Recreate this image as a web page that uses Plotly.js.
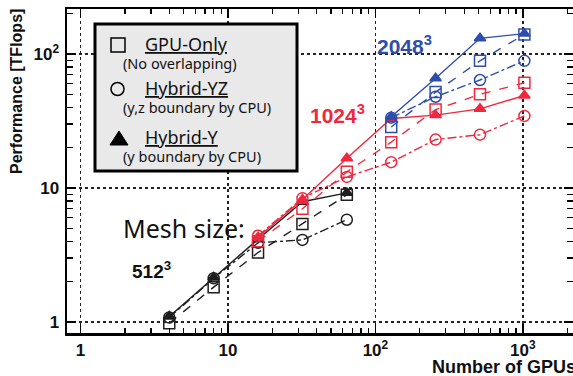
<!DOCTYPE html>
<html>
<head>
<meta charset="utf-8">
<script src="https://cdn.plot.ly/plotly-3.0.1.min.js"></script>
<style>html,body{margin:0;padding:0;background:#fff;}#chart{width:573px;height:376px;}</style>
</head>
<body>
<div id="chart"></div>
<script>
// ---- data ----
const xs512 = [4, 8, 16, 32, 64];
const gpu512 = [0.98, 1.82, 3.3, 5.4, 8.9];
const yz512 = [1.08, 2.12, 3.9, 4.1, 5.8];
const hy512 = [1.1, 2.15, 4.15, 7.9, 9.2];

const xs1024 = [16, 32, 64, 128, 256, 512, 1024];
const gpu1024 = [4.0, 7.0, 13.2, 22, 38.5, 50, 61];
const yz1024 = [4.4, 8.4, 12.1, 15.6, 23, 25, 34.5];
const hy1024 = [4.3, 8.2, 16.7, 33, 35, 39, 49];

const xs2048 = [128, 256, 512, 1024];
const gpu2048 = [28.5, 52, 89, 140];
const yz2048 = [33.5, 48, 64, 89];
const hy2048 = [34, 66, 131, 142];

const xTickVals = [1, 10, 100, 1000];
const xTickText = ['1', '10', '10<sup>2</sup>', '10<sup>3</sup>'];
const yTickVals = [1, 10, 100];
const yTickText = ['1', '10', '10<sup>2</sup>'];

const legendNames = ['GPU-Only', 'Hybrid-YZ', 'Hybrid-Y'];
const legendNotes = ['(No overlapping)', '(y,z boundary by CPU)', '(y boundary by CPU)'];

// ---- styling ----
const BLACK = '#1e1e1e', RED = '#f0283e', BLUE = '#2f4dac';
const W = 573, H = 376, L = 67, R = 0, T = 9, B = 43;
const pw = W - L - R, ph = H - T - B;
const px = v => (v - L) / pw;
const py = v => (H - B - v) / ph;

function minorVals(maxDec) {
  const out = [];
  for (let d = 0; d <= maxDec; d++) for (let k = 2; k <= 9; k++) out.push(k * Math.pow(10, d));
  return out;
}

function tr(x, y, color, kind) {
  const sty = {
    gpu: {dash: 'dash', symbol: 'square-open', size: 11},
    yz: {dash: 'dashdot', symbol: 'circle-open', size: 11},
    hy: {dash: 'solid', symbol: 'triangle-up', size: 10}
  }[kind];
  return {
    x: x, y: y, type: 'scatter', mode: 'lines+markers', showlegend: false,
    line: {color: color, width: 1.4, dash: sty.dash},
    marker: {symbol: sty.symbol, size: sty.size, color: color, line: {color: color, width: 1.5}}
  };
}

const data = [
  tr(xs512, gpu512, BLACK, 'gpu'), tr(xs512, yz512, BLACK, 'yz'), tr(xs512, hy512, BLACK, 'hy'),
  tr(xs1024, gpu1024, RED, 'gpu'), tr(xs1024, yz1024, RED, 'yz'), tr(xs1024, hy1024, RED, 'hy'),
  tr(xs2048, gpu2048, BLUE, 'gpu'), tr(xs2048, yz2048, BLUE, 'yz'), tr(xs2048, hy2048, BLUE, 'hy')
];

const ARIAL = 'Liberation Sans, Arial, sans-serif';
const tickFont = {family: ARIAL, size: 17, color: '#111', weight: 'bold'};
const legFont = 'Noto Sans, Open Sans, sans-serif';

const shapes = [
  {type: 'rect', xref: 'paper', yref: 'paper', x0: px(95), x1: px(297), y0: py(171), y1: py(24),
   fillcolor: '#e9e9e9', line: {color: '#000', width: 3}, layer: 'above'},
  {type: 'rect', xref: 'paper', yref: 'paper', x0: px(111), x1: px(125), y0: py(52), y1: py(38),
   fillcolor: 'rgba(0,0,0,0)', line: {color: '#000', width: 1.5}, layer: 'above'},
  {type: 'circle', xref: 'paper', yref: 'paper', x0: px(111), x1: px(124), y0: py(95.5), y1: py(82.5),
   fillcolor: 'rgba(0,0,0,0)', line: {color: '#000', width: 1.5}, layer: 'above'},
  {type: 'path', xref: 'paper', yref: 'paper', layer: 'above',
   path: 'M ' + px(110) + ' ' + py(145) + ' L ' + px(128) + ' ' + py(145) + ' L ' + px(119) + ' ' + py(131) + ' Z',
   fillcolor: '#000', line: {color: '#000', width: 1}}
];

function ann(text, x, y, font, xanchor, extra) {
  return Object.assign({text: text, xref: 'paper', yref: 'paper', x: px(x), y: py(y),
    xanchor: xanchor || 'left', yanchor: 'middle', showarrow: false, font: font}, extra || {});
}

const nameFont = {family: legFont, size: 18, color: '#111', weight: 'normal'};
const noteFont = {family: legFont, size: 14.5, color: '#111', weight: 'normal'};

const annotations = [
  ann('<u>' + legendNames[0] + '</u>', 143, 44, nameFont),
  ann(legendNotes[0], 121, 63, noteFont),
  ann('<u>' + legendNames[1] + '</u>', 143, 88, nameFont),
  ann(legendNotes[1], 121, 107, noteFont),
  ann('<u>' + legendNames[2] + '</u>', 143, 137, nameFont),
  ann(legendNotes[2], 121, 156, noteFont),
  ann('Mesh size:', 121, 228, {family: legFont, size: 25, color: '#111', weight: 'normal'}),
  ann('<b>512<sup>3</sup></b>', 130, 270, {family: ARIAL, size: 19, color: '#111'}),
  ann('<b>2048<sup>3</sup></b>', 375, 45, {family: ARIAL, size: 21, color: BLUE}),
  ann('<b>1024<sup>3</sup></b>', 308, 114, {family: ARIAL, size: 21, color: RED}),
  ann('<b>Number of GPUs</b>', 578, 367, {family: ARIAL, size: 18, color: '#111'}, 'right'),
  ann('<b>Performance [TFlops]</b>', 16, 92, {family: ARIAL, size: 16, color: '#111'}, 'center', {textangle: -90})
];

const layout = {
  width: W, height: H,
  margin: {l: L, r: R, t: T, b: B, pad: 0},
  paper_bgcolor: '#fff', plot_bgcolor: '#fff',
  showlegend: false,
  xaxis: {
    type: 'log', range: [-0.0915, 3.34], tickmode: 'array', tickvals: xTickVals, ticktext: xTickText,
    ticks: 'inside', ticklen: 9, tickwidth: 1.5, tickcolor: '#000',
    showgrid: true, gridcolor: '#222', griddash: 'dot', gridwidth: 1.4,
    showline: true, linecolor: '#000', linewidth: 2.5, mirror: 'allticks',
    zeroline: false, tickfont: tickFont,
    minor: {tickmode: 'array', tickvals: minorVals(3), ticks: 'inside', ticklen: 5, tickwidth: 1.3, tickcolor: '#000', showgrid: false}
  },
  yaxis: {
    type: 'log', range: [-0.082, 2.336], tickmode: 'array', tickvals: yTickVals, ticktext: yTickText,
    ticks: 'inside', ticklen: 9, tickwidth: 1.5, tickcolor: '#000',
    showgrid: true, gridcolor: '#222', griddash: 'dot', gridwidth: 1.4,
    showline: true, linecolor: '#000', linewidth: 2.5, mirror: 'allticks',
    zeroline: false, tickfont: tickFont, ticklabelstandoff: 2,
    minor: {tickmode: 'array', tickvals: minorVals(2), ticks: 'inside', ticklen: 6, tickwidth: 1.3, tickcolor: '#000', showgrid: false}
  },
  shapes: shapes,
  annotations: annotations
};

Plotly.newPlot('chart', data, layout, {displayModeBar: false, staticPlot: true});
</script>
</body>
</html>
